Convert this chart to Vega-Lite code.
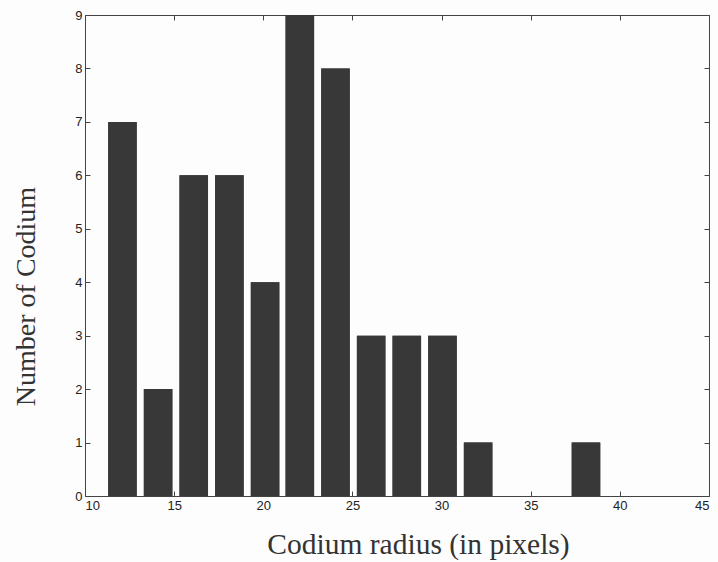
{
  "$schema": "https://vega.github.io/schema/vega-lite/v6.json",
  "width": 624,
  "height": 481,
  "autosize": {"type": "none"},
  "padding": {"left": 85, "top": 15, "right": 9, "bottom": 66},
  "background": "#fdfdfd",
  "config": {
    "view": {"stroke": null},
    "axis": {
      "grid": false,
      "domainColor": "#444444",
      "tickColor": "#444444",
      "labelColor": "#222222",
      "titleColor": "#333333",
      "labelFont": "Liberation Sans",
      "labelFontSize": 13,
      "titleFont": "Liberation Serif",
      "titleFontSize": 28,
      "titleFontWeight": "normal",
      "tickSize": -5,
      "labelPadding": 8
    }
  },
  "data": {
    "values": [
      {"x0": 11.3, "x1": 12.9, "count": 7},
      {"x0": 13.3, "x1": 14.9, "count": 2},
      {"x0": 15.3, "x1": 16.9, "count": 6},
      {"x0": 17.3, "x1": 18.9, "count": 6},
      {"x0": 19.3, "x1": 20.9, "count": 4},
      {"x0": 21.25, "x1": 22.85, "count": 9},
      {"x0": 23.25, "x1": 24.85, "count": 8},
      {"x0": 25.25, "x1": 26.85, "count": 3},
      {"x0": 27.25, "x1": 28.85, "count": 3},
      {"x0": 29.25, "x1": 30.85, "count": 3},
      {"x0": 31.25, "x1": 32.85, "count": 1},
      {"x0": 33.25, "x1": 34.85, "count": 0},
      {"x0": 35.25, "x1": 36.85, "count": 0},
      {"x0": 37.3, "x1": 38.9, "count": 1}
    ]
  },
  "layer": [
    {
      "mark": {"type": "bar", "color": "#383838"},
      "encoding": {
        "x": {
          "field": "x0", "type": "quantitative",
          "scale": {"domain": [10, 45], "nice": false, "zero": false},
          "axis": {
            "title": "Codium radius (in pixels)",
            "values": [10, 15, 20, 25, 30, 35, 40, 45],
            "titleFontSize": 29.5,
            "titleX": 333, "titleY": 57, "titleBaseline": "alphabetic"
          }
        },
        "x2": {"field": "x1"},
        "y": {
          "field": "count", "type": "quantitative",
          "scale": {"domain": [0, 9], "nice": false},
          "axis": {
            "title": "Number of Codium",
            "values": [0, 1, 2, 3, 4, 5, 6, 7, 8, 9],
            "titleX": -59, "titleY": 281, "titleAngle": -90,
            "titleBaseline": "middle", "titleAlign": "center"
          }
        },
        "y2": {"datum": 0}
      }
    },
    {
      "mark": {"type": "bar", "color": "#383838"},
      "encoding": {
        "x": {
          "field": "x0", "type": "quantitative",
          "scale": {"domain": [10, 45], "nice": false, "zero": false},
          "axis": {"orient": "top", "title": null, "labels": false, "values": [10, 15, 20, 25, 30, 35, 40, 45]}
        },
        "x2": {"field": "x1"},
        "y": {
          "field": "count", "type": "quantitative",
          "scale": {"domain": [0, 9], "nice": false},
          "axis": {"orient": "right", "title": null, "labels": false, "values": [0, 1, 2, 3, 4, 5, 6, 7, 8, 9]}
        },
        "y2": {"datum": 0}
      }
    }
  ],
  "resolve": {"axis": {"x": "independent", "y": "independent"}}
}
